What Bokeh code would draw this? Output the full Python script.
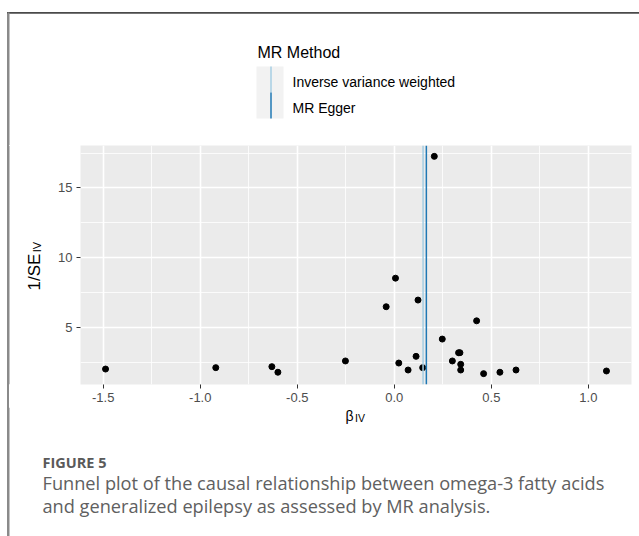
from bokeh.plotting import figure
from bokeh.layouts import column, row
from bokeh.models import Span, FixedTicker, Range1d
from bokeh.core.properties import value
from bokeh.embed import file_html
from bokeh.resources import INLINE
import math

# ---- data ----
beta_iv = [-1.488, -0.920, -0.631, -0.600, -0.252, -0.042, 0.006, 0.023,
           0.071, 0.112, 0.122, 0.146, 0.206, 0.247, 0.299, 0.331, 0.338,
           0.342, 0.342, 0.424, 0.460, 0.544, 0.627, 1.093]
inv_se_iv = [2.01, 2.11, 2.18, 1.78, 2.59, 6.48, 8.53, 2.44,
             1.94, 2.92, 6.96, 2.11, 17.27, 4.16, 2.59, 3.18, 3.18,
             2.35, 1.94, 5.47, 1.68, 1.78, 1.94, 1.87]
methods = ["Inverse variance weighted", "MR Egger"]
method_estimates = [0.148, 0.165]
method_colors = ["#a6cee3", "#1f78b4"]
x_ticks = [-1.5, -1.0, -0.5, 0.0, 0.5, 1.0]
x_tick_labels = ["-1.5", "-1.0", "-0.5", "0.0", "0.5", "1.0"]
y_ticks = [5, 10, 15]
y_tick_labels = ["5", "10", "15"]
legend_title = "MR Method"
x_title, x_sub = "β", "IV"
y_title, y_sub = "1/SE", "IV"
fig_label = "FIGURE 5"
caption_lines = ["Funnel plot of the causal relationship between omega-3 fatty acids",
                 "and generalized epilepsy as assessed by MR analysis."]

W, H = 639, 536
TOP_H = 145          # legend strip
FRAME_H = 239
MAIN_BOTTOM = 23
MAIN_H = FRAME_H + MAIN_BOTTOM
LEFT_W = 50
BOT_H = H - TOP_H - MAIN_H
AX_FONT = "Liberation Sans"
CAP_FONT = "Open Sans"
BORDER_GREY = "#8a8a8a"
TOP_LINE = "#4a4a4a"


def canvas_fig(w, h, x0, y0, frame_h=None, bottom=0):
    """A blank, transparent figure whose data space equals page pixels (y downwards)."""
    fh = h if frame_h is None else frame_h
    f = figure(width=w, height=h, output_backend="svg", toolbar_location=None,
               x_range=Range1d(x0, x0 + w), y_range=Range1d(y0 + fh, y0),
               x_axis_type=None, y_axis_type=None,
               min_border_left=0, min_border_right=0, min_border_top=0,
               min_border_bottom=bottom)
    f.grid.visible = False
    f.outline_line_color = None
    f.background_fill_alpha = 0
    f.border_fill_alpha = 0
    return f


def txt(f, x, y, s, size, color="black", font=AX_FONT, style="normal", angle=0.0):
    # y is the visual centre of the capitals
    f.text(x=[x], y=[y], text=[s], text_font=value(font), text_font_size=value(size),
           text_font_style=value(style), text_color=color, text_baseline="middle",
           text_align="left", angle=angle)


# ---------------- legend strip (top) ----------------
top = canvas_fig(W, TOP_H, 0, 0)
top.quad(left=[7], right=[W], top=[11.5], bottom=[13], color=TOP_LINE, line_color=None)
top.quad(left=[7], right=[9], top=[12], bottom=[TOP_H], color=BORDER_GREY, line_color=None)
txt(top, 257, 52.2, legend_title, "16px")
top.quad(left=[256], right=[283], top=[66], bottom=[118], color="#F2F2F2", line_color=None)
for i, (m, col) in enumerate(zip(methods, method_colors)):
    y_top = 66 + 26 * i
    top.segment(x0=[270.5], y0=[y_top], x1=[270.5], y1=[y_top + 26], line_color=col, line_width=1.5)
    txt(top, 292, 81.7 + 26 * i, m, "14px")

# ---------------- y-axis title (left) ----------------
lf = canvas_fig(LEFT_W, MAIN_H, 0, TOP_H, frame_h=FRAME_H, bottom=MAIN_BOTTOM)
lf.quad(left=[7], right=[9], top=[TOP_H], bottom=[TOP_H + FRAME_H], color=BORDER_GREY, line_color=None)
txt(lf, 33.7, 290, y_title, "17px", angle=math.pi / 2)
txt(lf, 36.3, 251.7, y_sub, "11px", angle=math.pi / 2)

# ---------------- main panel ----------------
def expand(vals, f=0.05):
    lo, hi = min(vals), max(vals)
    d = (hi - lo) * f
    return lo - d, hi + d

x0, x1 = expand(beta_iv)
y0, y1 = expand(inv_se_iv)

p = figure(width=W - LEFT_W, height=MAIN_H, output_backend="svg", toolbar_location=None,
           x_range=(x0, x1), y_range=(y0, y1),
           min_border_left=80 - LEFT_W, min_border_right=8, min_border_top=0,
           min_border_bottom=MAIN_BOTTOM)
p.background_fill_color = "#EBEBEB"
p.border_fill_color = "white"
p.outline_line_color = None

xt = FixedTicker(ticks=x_ticks,
                 minor_ticks=[(a + b) / 2 for a, b in zip(x_ticks[:-1], x_ticks[1:])]
                 + [x_ticks[0] - 0.25, x_ticks[-1] + 0.25])
yt = FixedTicker(ticks=y_ticks, minor_ticks=[2.5, 7.5, 12.5, 17.5])
p.xaxis.ticker = xt
p.yaxis.ticker = yt
p.xaxis.major_label_overrides = dict(zip(x_ticks, x_tick_labels))
p.yaxis.major_label_overrides = dict(zip(y_ticks, y_tick_labels))

for ax in (p.xaxis, p.yaxis):
    ax.axis_line_color = None
    ax.major_tick_in = 0
    ax.major_tick_out = 4
    ax.major_tick_line_color = "#333333"
    ax.minor_tick_line_color = None
    ax.major_label_text_color = "#4D4D4D"
    ax.major_label_text_font = AX_FONT
    ax.major_label_text_font_size = "13px"
p.xaxis.major_label_standoff = 4
p.yaxis.major_label_standoff = 4

for g in (p.xgrid, p.ygrid):
    g.grid_line_color = "white"
    g.grid_line_width = 1.6
    g.minor_grid_line_color = "white"
    g.minor_grid_line_width = 0.8

p.scatter(beta_iv, inv_se_iv, size=6, color="black")
for est, col in zip(method_estimates, method_colors):
    p.add_layout(Span(location=est, dimension="height", line_color=col, line_width=1.5))

# ---------------- x-axis title + caption (bottom) ----------------
bf = canvas_fig(W, BOT_H, 0, TOP_H + MAIN_H)
bf.quad(left=[7], right=[9], top=[TOP_H + MAIN_H], bottom=[H], color=BORDER_GREY, line_color=None)
txt(bf, 345, 415.6, x_title, "14px")
txt(bf, 354.5, 417.5, x_sub, "10.5px")
txt(bf, 42, 462, fig_label, "14.5px", color="#5a5a5a", font=CAP_FONT, style="bold")
for i, (line, yc) in enumerate(zip(caption_lines, [482.5, 505])):
    txt(bf, 42, yc, line, "18.2px", color="#606060", font=CAP_FONT)

page_bg = ("linear-gradient(%s, %s) 7px 11.5px / 100%% 1.5px no-repeat, "
           "linear-gradient(white, white) 0 0 / 100%% 12px no-repeat, "
           "linear-gradient(to right, white 7px, %s 7px, %s 9px, white 9px)"
           % (TOP_LINE, TOP_LINE, BORDER_GREY, BORDER_GREY))
layout = column(top, row(lf, p, spacing=0), bf, spacing=0, styles={"background": page_bg})
open("out.html", "w").write(file_html(layout, INLINE))
